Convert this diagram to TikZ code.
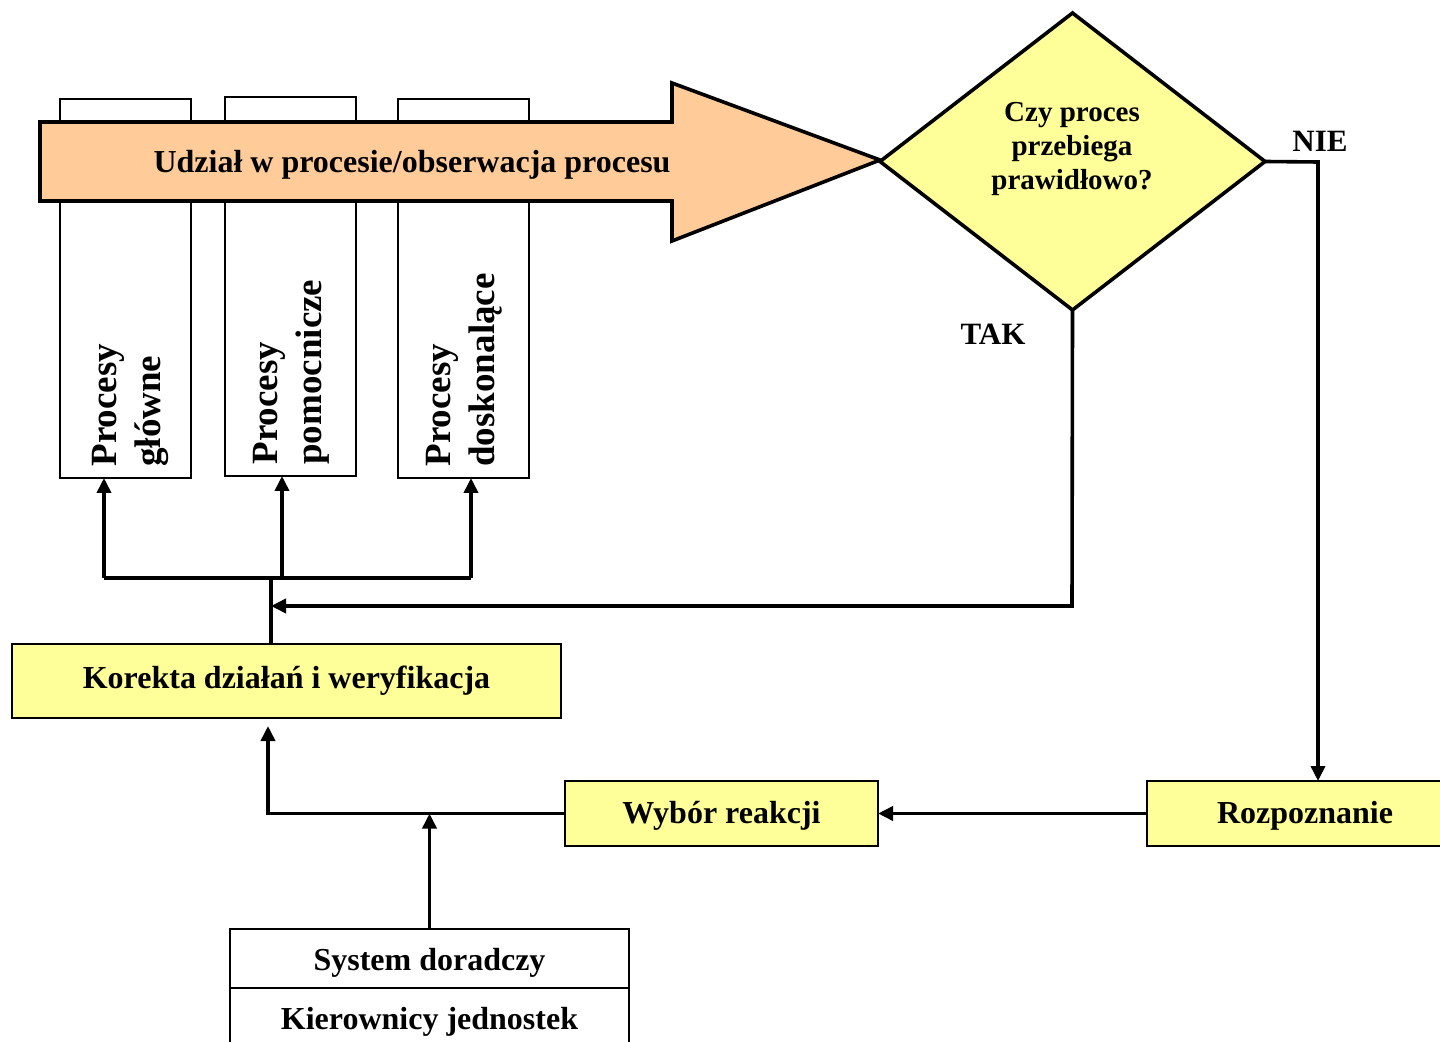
\documentclass[tikz,border=0pt]{standalone}
\usepackage{fontspec}
\setmainfont{Liberation Serif}
\usetikzlibrary{arrows.meta,shapes.geometric,calc}
\definecolor{orng}{HTML}{FFCC99}
\definecolor{ylw}{HTML}{FFFF99}
\begin{document}
\begin{tikzpicture}[x=0.5pt,y=-0.5pt,line join=miter,
 arr/.style={line width=1.8pt,-{Triangle[length=7.5pt,width=7pt]}},
 ln/.style={line width=1.8pt},
 box/.style={draw,line width=1.4pt,fill=ylw,inner sep=0pt,outer sep=0pt,font=\bfseries\fontsize{16}{19}\selectfont},
 col/.style={draw,line width=1.1pt,fill=white,minimum width=65.5pt,minimum height=189.5pt,inner sep=0pt,outer sep=0pt},
 vtext/.style={rotate=90,anchor=west,align=left,font=\bfseries\fontsize{18.5}{22}\selectfont,inner sep=0pt},
 lbl/.style={font=\bfseries\fontsize{15.5}{18}\selectfont,inner sep=0pt}]
\path[use as bounding box, clip] (0,0) rectangle (1440,1042);
\fill[white] (0,0) rectangle (1440,1042);
% columns
\node[col] (col1) at (125.5,288.5) {};
\node[col] (col2) at (290.5,286.5) {};
\node[col] (col3) at (463.5,288.5) {};
\node[vtext] (t1) at (130,467) {Procesy\\główne};
\node[vtext] (t2) at (291,465) {Procesy\\pomocnicze};
\node[vtext] (t3) at (464,467) {Procesy\\doskonalące};
% big arrow
\draw[line width=1.8pt,fill=orng] (40,122) -- (672,122) -- (672,83) -- (880,160) -- (672,241) -- (672,201) -- (40,201) -- cycle;
\node[font=\bfseries\fontsize{16}{19}\selectfont,inner sep=0pt] (udz) at (412,165) {Udział w procesie/obserwacja procesu};
% decision
\node[diamond,draw,line width=1.8pt,fill=ylw,minimum width=192.5pt,minimum height=148.5pt,inner sep=0pt,outer sep=0pt] (dia) at (1072.5,161.5) {};
\node[align=center,font=\bfseries\fontsize{14.5}{17}\selectfont,inner sep=0pt] (dq) at (1072,149) {Czy proces\\przebiega\\prawidłowo?};
\node[lbl] (nie) at (1320,141) {NIE};
\node[lbl] (tak) at (993,334) {TAK};
% boxes
\node[box,minimum width=274.5pt,minimum height=37pt] (kor) at (286.5,681) {Korekta działań i weryfikacja};
\node[box,minimum width=156.5pt,minimum height=32.5pt,text height=13.5pt,text depth=3.5pt] (wyb) at (721.5,813.5) {Wybór reakcji};
\node[box,minimum width=158pt,minimum height=32.5pt,text height=13.5pt,text depth=3.5pt] (roz) at (1305,813.5) {Rozpoznanie};
\node[box,fill=white,minimum width=199.5pt,minimum height=29.5pt,text height=15pt,text depth=3.5pt] (sys) at (429.5,958.5) {System doradczy};
\node[box,fill=white,minimum width=199.5pt,minimum height=29.5pt,text height=15pt,text depth=3.5pt] (kie) at (429.5,1017.5) {Kierownicy jednostek};
% connectors
\coordinate (nx) at (1318,162);
\draw[arr] (dia.east) -- (nx) -- (nx |- roz.north);
\draw[arr] (roz.west) -- (wyb.east);
\coordinate (kj) at (268,813.5);
\coordinate (kt) at (268,726);
\draw[arr] (wyb.west) -- (kj) -- (kt);
\draw[arr] (sys.north) -- (sys.north |- wyb.west);
\coordinate (bj) at (271,578);
\draw[ln] (bj |- kor.north) -- (bj);
\coordinate (b1) at (104,578);
\coordinate (b2) at (282,578);
\coordinate (b3) at (471,578);
\draw[arr] (b1) -- (b1 |- col1.south);
\draw[arr] (b3) -- (b3 |- col3.south);
\draw[arr] (b2) -- (b2 |- col2.south);
\draw[ln] (b1) -- (b3);
\coordinate (tj) at (1072,606);
\draw[arr] (dia.south) -- (tj) -- (tj -| bj);
\end{tikzpicture}
\end{document}
